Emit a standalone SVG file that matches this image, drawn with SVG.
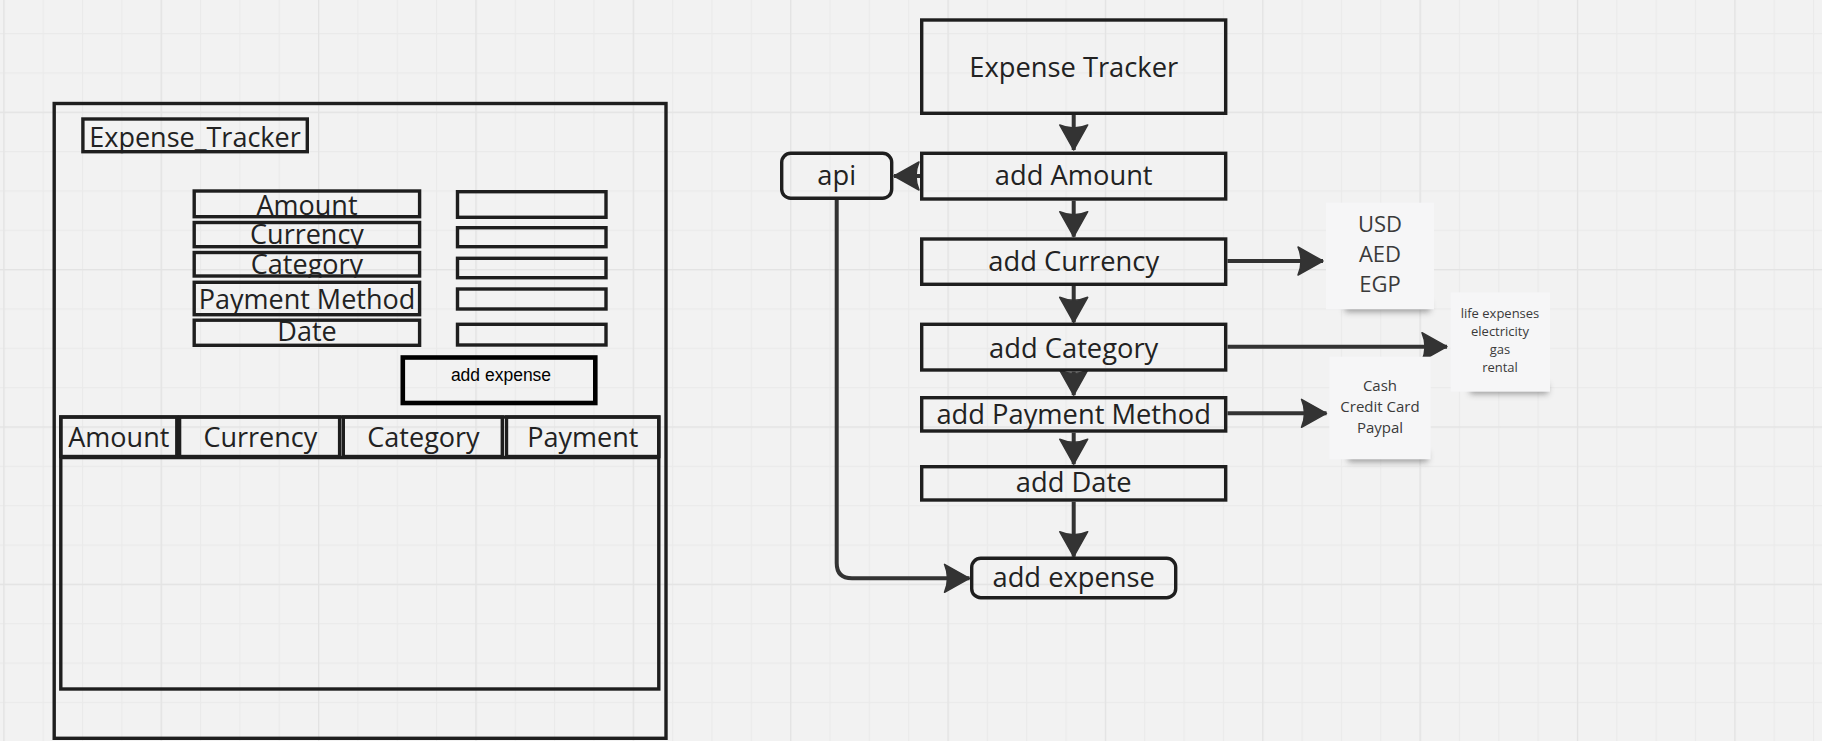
<svg xmlns="http://www.w3.org/2000/svg" width="1822" height="741" viewBox="0 0 1822 741">
  <defs>
    <pattern id="gridMinor" patternUnits="userSpaceOnUse" x="3.3" y="-6.3" width="39.34" height="39.34">
      <path d="M0.6,0 V39.34 M0,0.6 H39.34" stroke="#eaeaea" stroke-width="1.2" fill="none"/>
    </pattern>
    <pattern id="gridMajor" patternUnits="userSpaceOnUse" x="3.34" y="-45.66" width="157.36" height="157.36">
      <path d="M0.6,0 V157.36 M0,0.6 H157.36" stroke="#e3e3e3" stroke-width="1.3" fill="none"/>
    </pattern>
    <marker id="arrow" markerUnits="userSpaceOnUse" markerWidth="30" markerHeight="32" viewBox="-26 -16 28 32" refX="0" refY="0" orient="auto">
      <path d="M0,0 L-25,-14 Q-19,0 -25,14 Z" fill="#333" stroke="#333" stroke-width="1.5" stroke-linejoin="round"/>
    </marker>
    <filter id="noteShadow" x="-30%" y="-100%" width="160%" height="300%">
      <feGaussianBlur stdDeviation="3"/>
    </filter>
    <clipPath id="clipAmount"><rect x="190" y="185" width="235" height="33.3"/></clipPath>
    <clipPath id="clipCurrency"><rect x="190" y="218.3" width="235" height="30"/></clipPath>
    <clipPath id="clipCategory"><rect x="190" y="248.3" width="235" height="29.4"/></clipPath>
    <clipPath id="clipPayment"><rect x="190" y="277.7" width="235" height="39"/></clipPath>
    <clipPath id="clipTitle"><rect x="80" y="110" width="232" height="43.3"/></clipPath>
  </defs>
  <style>
    .box { fill: none; stroke: #1e1e1e; stroke-width: 3.4; }
    .lbl { font-family: "Open Sans", "Liberation Sans", sans-serif; font-size: 27px; fill: #222; text-anchor: middle; }
    .flow { font-family: "Open Sans", "Liberation Sans", sans-serif; font-size: 27.3px; fill: #222; text-anchor: middle; }
    .conn { fill: none; stroke: #333; stroke-width: 4; marker-end: url(#arrow); }
    .note { fill: #f6f6f7; }
    .shadow { fill: #555; opacity: 0.55; filter: url(#noteShadow); }
    .ntext { font-family: "Open Sans", "Liberation Sans", sans-serif; fill: #3a3a3a; text-anchor: middle; }
  </style>

  <rect x="0" y="0" width="1822" height="741" fill="#f2f2f2"/>
  <rect x="0" y="0" width="1822" height="741" fill="url(#gridMinor)"/>
  <rect x="0" y="0" width="1822" height="741" fill="url(#gridMajor)"/>

  <!-- Left mockup -->
  <g id="mockup-frame">
    <rect class="box" x="54.2" y="103.5" width="611.8" height="634.8" stroke-width="3.7"/>
  </g>
  <g id="mockup-title">
    <text class="lbl" x="195" y="147.3" clip-path="url(#clipTitle)" font-size="27.5">Expense_Tracker</text>
    <rect class="box" x="82.9" y="119" width="224.4" height="32.7"/>
  </g>
  <g id="label-amount">
    <text class="lbl" x="307" y="215" clip-path="url(#clipAmount)">Amount</text>
    <rect class="box" x="194.2" y="191" width="225.4" height="25.7"/>
  </g>
  <g id="label-currency">
    <text class="lbl" x="307" y="244" clip-path="url(#clipCurrency)">Currency</text>
    <rect class="box" x="194.2" y="222.5" width="225.4" height="24.2"/>
  </g>
  <g id="label-category">
    <text class="lbl" x="307" y="274" clip-path="url(#clipCategory)">Category</text>
    <rect class="box" x="194.2" y="252.5" width="225.4" height="23.5"/>
  </g>
  <g id="label-payment">
    <text class="lbl" x="307" y="309" clip-path="url(#clipPayment)">Payment Method</text>
    <rect class="box" x="194.2" y="282.3" width="225.4" height="32.4"/>
  </g>
  <g id="label-date">
    <text class="lbl" x="307" y="340.7">Date</text>
    <rect class="box" x="194.2" y="320.2" width="225.4" height="25.1"/>
  </g>
  <g id="input-amount"><rect class="box" x="457.5" y="191.7" width="148.5" height="25.6"/></g>
  <g id="input-currency"><rect class="box" x="457.5" y="227.7" width="148.5" height="19"/></g>
  <g id="input-category"><rect class="box" x="457.5" y="258.3" width="148.5" height="19.4"/></g>
  <g id="input-payment"><rect class="box" x="457.5" y="289" width="148.5" height="20"/></g>
  <g id="input-date"><rect class="box" x="457.5" y="324.3" width="148.5" height="20.7"/></g>
  <g id="mockup-add-expense">
    <rect x="402.8" y="357.5" width="192.5" height="45.5" fill="none" stroke="#000" stroke-width="4.6"/>
    <text x="501" y="381" font-family="Liberation Sans, Arial, sans-serif" font-size="17.5" fill="#000" text-anchor="middle">add expense</text>
  </g>
  <g id="mockup-table">
    <rect class="box" x="60.8" y="417" width="598" height="272"/>
    <line x1="60.8" y1="457.5" x2="658.8" y2="457.5" stroke="#1e1e1e" stroke-width="3.4"/>
    <rect class="box" x="60.8" y="417" width="116" height="39.5"/>
    <rect class="box" x="179.6" y="417" width="160" height="39.5"/>
    <rect class="box" x="343.3" y="417" width="159" height="39.5"/>
    <rect class="box" x="506.5" y="417" width="152.3" height="39.5"/>
    <text class="lbl" x="118.8" y="446.7">Amount</text>
    <text class="lbl" x="260.4" y="446.7">Currency</text>
    <text class="lbl" x="423.5" y="446.7">Category</text>
    <text class="lbl" x="582.8" y="446.7">Payment</text>
  </g>

  <!-- Flowchart connectors -->
  <g id="connectors">
    <path class="conn" d="M1073.7,115 V150"/>
    <path class="conn" d="M1073.7,200.7 V236.7"/>
    <path class="conn" d="M1073.7,286 V322.3"/>
    <path class="conn" d="M1073.7,371.7 V395.2"/>
    <path class="conn" d="M1073.7,432.7 V464.2"/>
    <path class="conn" d="M1073.7,501.7 V556.7"/>
    <path class="conn" d="M920,176 H894"/>
    <path class="conn" d="M836.7,200 V563 Q836.7,578.3 852,578.3 H969.5"/>
    <path class="conn" d="M1227.5,261 H1323"/>
    <path class="conn" d="M1227.5,346.7 H1447"/>
    <path class="conn" d="M1227.5,413.3 H1326.5"/>
  </g>

  <!-- Flowchart nodes -->
  <g id="node-expense-tracker">
    <rect class="box" x="921.7" y="20" width="304" height="93.3" fill="#f2f2f2"/>
    <text class="flow" x="1073.7" y="77.3">Expense Tracker</text>
  </g>
  <g id="node-add-amount">
    <rect class="box" x="921.7" y="153.3" width="304" height="45.7"/>
    <text class="flow" x="1073.7" y="185">add Amount</text>
  </g>
  <g id="node-api">
    <rect class="box" x="781.7" y="153.3" width="110" height="45" rx="9"/>
    <text class="flow" x="836.7" y="185">api</text>
  </g>
  <g id="node-add-currency">
    <rect class="box" x="921.7" y="239" width="304" height="45.3"/>
    <text class="flow" x="1073.7" y="270.7">add Currency</text>
  </g>
  <g id="node-add-category">
    <rect class="box" x="921.7" y="324.3" width="304" height="45.7"/>
    <text class="flow" x="1073.7" y="357.7">add Category</text>
  </g>
  <g id="node-add-payment">
    <rect class="box" x="921.7" y="397.7" width="304" height="33.3"/>
    <text class="flow" x="1073.7" y="424.3">add Payment Method</text>
  </g>
  <g id="node-add-date">
    <rect class="box" x="921.7" y="466.7" width="304" height="33.3"/>
    <text class="flow" x="1073.7" y="492.3">add Date</text>
  </g>
  <g id="node-add-expense">
    <rect class="box" x="971.7" y="558.3" width="204" height="39.4" rx="9"/>
    <text class="flow" x="1073.7" y="586.7">add expense</text>
  </g>

  <!-- Sticky notes -->
  <g id="note-currencies">
    <rect class="shadow" x="1345" y="302" width="85" height="10"/>
    <rect class="note" x="1326" y="202.7" width="108" height="106.6"/>
    <text class="ntext" x="1380" y="231.7" font-size="22">USD</text>
    <text class="ntext" x="1380" y="262.3" font-size="22">AED</text>
    <text class="ntext" x="1380" y="291.7" font-size="22">EGP</text>
  </g>
  <g id="note-categories">
    <rect class="shadow" x="1470" y="384" width="78" height="10"/>
    <rect class="note" x="1450.7" y="292.3" width="99.3" height="99.4"/>
    <text class="ntext" x="1500" y="317.7" font-size="13">life expenses</text>
    <text class="ntext" x="1500" y="335.7" font-size="13">electricity</text>
    <text class="ntext" x="1500" y="353.7" font-size="13">gas</text>
    <text class="ntext" x="1500" y="371.7" font-size="13">rental</text>
  </g>
  <g id="note-payments">
    <rect class="shadow" x="1348" y="452" width="80" height="10"/>
    <rect class="note" x="1329.3" y="356.7" width="101.4" height="102.6"/>
    <text class="ntext" x="1380" y="391" font-size="15">Cash</text>
    <text class="ntext" x="1380" y="412" font-size="15">Credit Card</text>
    <text class="ntext" x="1380" y="433" font-size="15">Paypal</text>
  </g>
</svg>
